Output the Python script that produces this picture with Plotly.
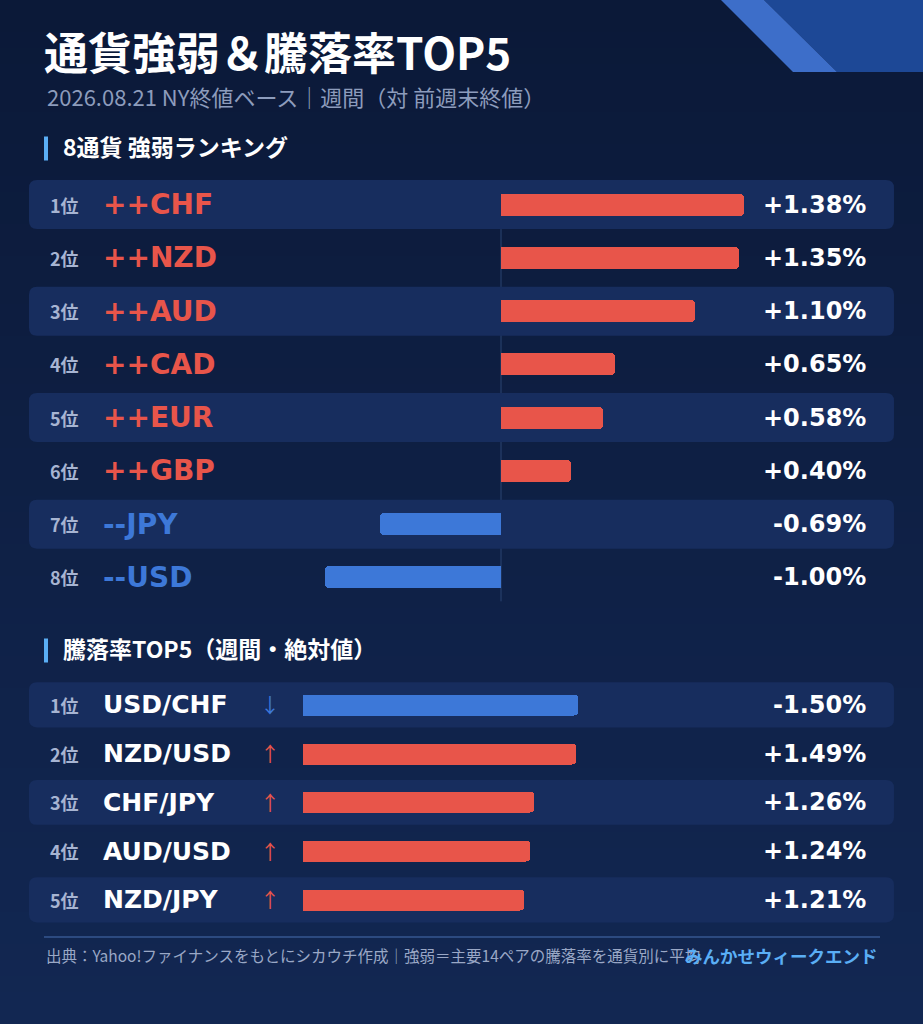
import plotly.graph_objects as go

W, H = 923, 1024

# ---- data ----
title = "通貨強弱＆騰落率TOP5"
subtitle = "2026.08.21 NY終値ベース｜週間（対 前週末終値）"
header1 = "8通貨 強弱ランキング"
header2 = "騰落率TOP5（週間・絶対値）"
footer = "出典：Yahoo!ファイナンスをもとにシカウチ作成｜強弱＝主要14ペアの騰落率を通貨別に平均"
brand = "みんかせウィークエンド"

rank_labels = ["1位", "2位", "3位", "4位", "5位", "6位", "7位", "8位"]
currencies = ["CHF", "NZD", "AUD", "CAD", "EUR", "GBP", "JPY", "USD"]
strength = [1.38, 1.35, 1.10, 0.65, 0.58, 0.40, -0.69, -1.00]

pairs = ["USD/CHF", "NZD/USD", "CHF/JPY", "AUD/USD", "NZD/JPY"]
pair_change = [-1.50, 1.49, 1.26, 1.24, 1.21]

# ---- styling ----
RED = "#e8554a"
BLUE = "#3d78d8"
ROW_BG = "#172d5e"
ACCENT = "#5aaef5"
JP = "Noto Sans CJK JP"
LAT = "DejaVu Sans"

# layout in pixels
S1_TOP, S1_ROW, S1_ZERO, S1_SCALE = 178, 53.25, 501, 176
S2_TOP, S2_ROW, S2_ZERO, S2_SCALE = 680.5, 48.75, 303, 183


def px(x):
    return x / W


def py(y):
    return 1 - y / H


def rrect(x0, y0, x1, y1, r):
    X = lambda v: f"{v / W:.5f}"
    Y = lambda v: f"{1 - v / H:.5f}"
    return (f"M {X(x0 + r)},{Y(y0)} L {X(x1 - r)},{Y(y0)} Q {X(x1)},{Y(y0)} {X(x1)},{Y(y0 + r)} "
            f"L {X(x1)},{Y(y1 - r)} Q {X(x1)},{Y(y1)} {X(x1 - r)},{Y(y1)} "
            f"L {X(x0 + r)},{Y(y1)} Q {X(x0)},{Y(y1)} {X(x0)},{Y(y1 - r)} "
            f"L {X(x0)},{Y(y0 + r)} Q {X(x0)},{Y(y0)} {X(x0 + r)},{Y(y0)} Z")


shapes = []

# background gradient
top_c = (11, 25, 56)
bot_c = (18, 39, 82)
n = 64
step = H / n
for k in range(n):
    t = k / (n - 1)
    c = tuple(round(a + (b - a) * t) for a, b in zip(top_c, bot_c))
    shapes.append(dict(type="rect", xref="paper", yref="paper", layer="below",
                       x0=0, x1=1, y0=py(k * step + step + 1), y1=py(k * step),
                       fillcolor=f"rgb{c}", line_width=0))

# top-right decoration
shapes.append(dict(type="path", xref="paper", yref="paper", layer="below", line_width=0,
                   fillcolor="#1d4896",
                   path=f"M {px(764)},{py(0)} L {px(W)},{py(0)} L {px(W)},{py(72)} L {px(837)},{py(72)} Z"))
shapes.append(dict(type="path", xref="paper", yref="paper", layer="below", line_width=0,
                   fillcolor="#3d6ec9",
                   path=f"M {px(721)},{py(0)} L {px(764)},{py(0)} L {px(837)},{py(72)} L {px(793)},{py(72)} Z"))

# zero line of ranking (under row bands)
shapes.append(dict(type="line", xref="paper", yref="paper", layer="below",
                   x0=px(S1_ZERO), x1=px(S1_ZERO),
                   y0=py(S1_TOP + S1_ROW * 0.96), y1=py(S1_TOP + S1_ROW * 7.95),
                   line=dict(color="#2b4473", width=1)))

# row bands
for i in range(0, len(currencies), 2):
    c = S1_TOP + S1_ROW * (i + 0.5)
    shapes.append(dict(type="path", xref="paper", yref="paper", layer="below", line_width=0,
                       fillcolor=ROW_BG, path=rrect(29, c - 24.5, 894, c + 24.5, 8)))
for i in range(0, len(pairs), 2):
    c = S2_TOP + S2_ROW * (i + 0.5)
    shapes.append(dict(type="path", xref="paper", yref="paper", layer="below", line_width=0,
                       fillcolor=ROW_BG, path=rrect(29, c - 22.5, 894, c + 22.5, 8)))

# section accents
for y in (148.5, 650.5):
    shapes.append(dict(type="rect", xref="paper", yref="paper", layer="below", line_width=0,
                       x0=px(44), x1=px(48), y0=py(y + 12), y1=py(y - 12), fillcolor=ACCENT))

# footer rule
shapes.append(dict(type="line", xref="paper", yref="paper", layer="below",
                   x0=px(44), x1=px(880), y0=py(937), y1=py(937),
                   line=dict(color="#2c4a80", width=2)))

fig = go.Figure()

fig.add_trace(go.Bar(
    x=strength, y=currencies, orientation="h", width=0.41,
    marker=dict(color=[RED if v > 0 else BLUE for v in strength], cornerradius=4, line_width=0),
    xaxis="x", yaxis="y", hoverinfo="skip", showlegend=False))

fig.add_trace(go.Bar(
    x=[abs(v) for v in pair_change], y=pairs, orientation="h", width=0.43,
    marker=dict(color=[RED if v > 0 else BLUE for v in pair_change], cornerradius=4, line_width=0),
    xaxis="x2", yaxis="y2", hoverinfo="skip", showlegend=False))

ann = []
ann.append(dict(text=f"<b>{title}</b>", x=px(42), y=py(51), font=dict(family=JP, size=44, color="white", weight=900),
                xanchor="left", yanchor="middle"))
ann.append(dict(text=subtitle, x=px(45), y=py(96), font=dict(family=JP, size=22, color="#8d9cbc"),
                xanchor="left", yanchor="middle"))
ann.append(dict(text=f"<b>{header1}</b>", x=px(61), y=py(146), font=dict(family=JP, size=23, color="white"),
                xanchor="left", yanchor="middle"))
ann.append(dict(text=f"<b>{header2}</b>", x=px(61), y=py(648), font=dict(family=JP, size=23, color="white"),
                xanchor="left", yanchor="middle"))

for i, (cur, v) in enumerate(zip(currencies, strength)):
    col = RED if v > 0 else BLUE
    ann.append(dict(text=f"<b>{rank_labels[i]}</b>", x=px(81), y=cur, yref="y", xanchor="right",
                    font=dict(family=JP, size=18, color="#a7b4d2")))
    ann.append(dict(text=f"<b>{'++' if v > 0 else '--'}{cur}</b>", x=px(101), y=cur, yref="y", xanchor="left",
                    font=dict(family=LAT, size=28, color=col)))
    ann.append(dict(text=f"<b>{v:+.2f}%</b>", x=px(868), y=cur, yref="y", xanchor="right",
                    font=dict(family=LAT, size=24, color="white")))

for i, (p, v) in enumerate(zip(pairs, pair_change)):
    col = RED if v > 0 else BLUE
    ann.append(dict(text=f"<b>{rank_labels[i]}</b>", x=px(81), y=p, yref="y2", xanchor="right",
                    font=dict(family=JP, size=18, color="#a7b4d2")))
    ann.append(dict(text=f"<b>{p}</b>", x=px(101), y=p, yref="y2", xanchor="left",
                    font=dict(family=LAT, size=25, color="white")))
    ann.append(dict(text="↑" if v > 0 else "↓", x=px(270), y=p, yref="y2", xanchor="center",
                    font=dict(family=JP, size=20, color=col)))
    ann.append(dict(text=f"<b>{v:+.2f}%</b>", x=px(868), y=p, yref="y2", xanchor="right",
                    font=dict(family=LAT, size=24, color="white")))

ann.append(dict(text=footer, x=px(44), y=py(955), font=dict(family=JP, size=15.5, color="#9aa8c6"),
                xanchor="left", yanchor="middle"))
ann.append(dict(text=f"<b>{brand}</b>", x=px(880), y=py(955), font=dict(family=JP, size=17.5, color=ACCENT),
                xanchor="right", yanchor="middle"))

for a in ann:
    a.setdefault("xref", "paper")
    a.setdefault("yref", "paper")
    a.setdefault("yanchor", "middle")
    a["showarrow"] = False

hidden = dict(visible=False, fixedrange=True, showgrid=False, zeroline=False)
fig.update_layout(
    width=W, height=H, margin=dict(l=0, r=0, t=0, b=0),
    paper_bgcolor="#0b1938", plot_bgcolor="rgba(0,0,0,0)",
    shapes=shapes, annotations=ann, bargap=0,
    xaxis=dict(hidden, domain=[0, 1], range=[-S1_ZERO / S1_SCALE, (W - S1_ZERO) / S1_SCALE], anchor="y"),
    yaxis=dict(hidden, domain=[py(S1_TOP + 8 * S1_ROW), py(S1_TOP)], range=[7.5, -0.5],
               type="category", anchor="x"),
    xaxis2=dict(hidden, domain=[0, 1], range=[-S2_ZERO / S2_SCALE, (W - S2_ZERO) / S2_SCALE], anchor="y2"),
    yaxis2=dict(hidden, domain=[py(S2_TOP + 5 * S2_ROW), py(S2_TOP)], range=[4.5, -0.5],
                type="category", anchor="x2"),
)

fig.write_html("out.html", config={"displayModeBar": False},
               post_script="document.body.style.margin='0';document.body.style.background='#0b1938';")
